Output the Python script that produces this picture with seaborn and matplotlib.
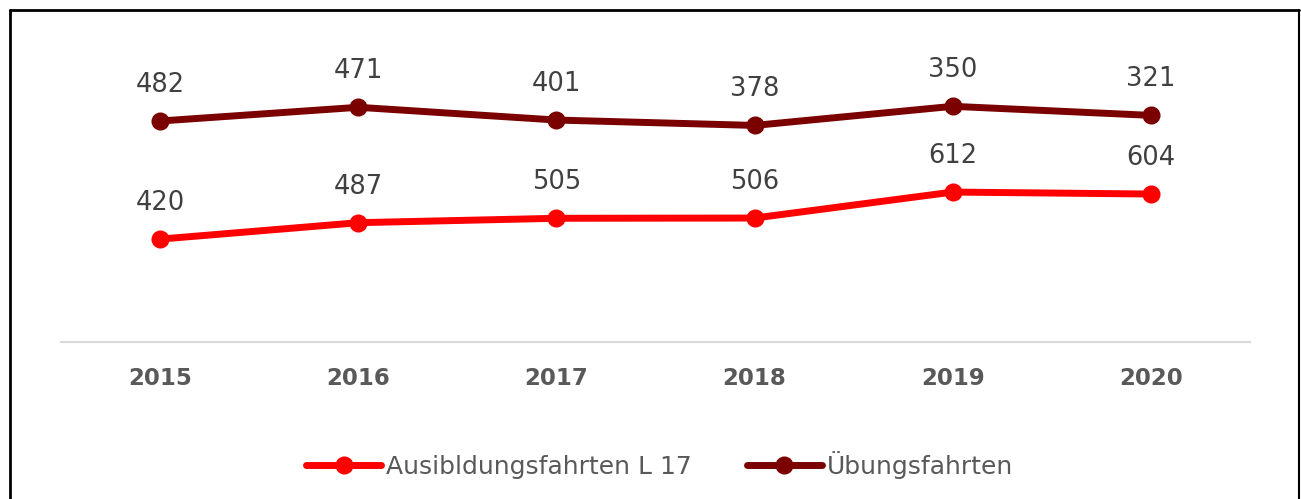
import matplotlib.pyplot as plt
import matplotlib.lines as mlines
import numpy as np
import pandas as pd
import seaborn as sns

# datos
jahre = ['2015', '2016', '2017', '2018', '2019', '2020']
ausbildung = [420, 487, 505, 506, 612, 604]
uebung = [482, 471, 401, 378, 350, 321]
serien = ['Ausibldungsfahrten L 17', 'Übungsfahrten']
farben = ['#FF0000', '#7B0000']

# gestapeltes Liniendiagramm (wie in Excel)
gestapelt = np.array(ausbildung) + np.array(uebung)
df = pd.DataFrame({
    'Jahr': jahre * 2,
    'x': list(range(len(jahre))) * 2,
    'wert': list(ausbildung) + list(gestapelt),
    'label': list(ausbildung) + list(uebung),
    'Serie': [serien[0]] * len(jahre) + [serien[1]] * len(jahre),
})

sns.set_style('white')
plt.rcParams['font.family'] = ['DejaVu Sans']

fig = plt.figure(figsize=(13.01, 4.99), dpi=100)
ax = fig.add_axes([61 / 1301, 0.3146, (1250 - 61) / 1301, 0.5892])

sns.lineplot(data=df, x='x', y='wert', hue='Serie', palette=farben,
             marker='o', markersize=13, linewidth=5, markeredgewidth=0,
             ax=ax, legend=False)

# Beschriftung der Punkte
for _, r in df.iterrows():
    ax.annotate(f"{r['label']}", (r['x'], r['wert']), xytext=(0, 26),
                textcoords='offset points', ha='center', va='center',
                fontsize=18.5, color='#404040')

ax.set_xlim(-0.5, 5.5)
ax.set_ylim(0, 1200)
ax.set_xticks(range(len(jahre)))
ax.set_xticklabels(jahre, fontsize=16.5, fontweight='bold', color='#595959')
ax.tick_params(axis='x', length=0, pad=18)
ax.set_yticks([])
ax.set_xlabel('')
ax.set_ylabel('')
for s in ['top', 'right', 'left']:
    ax.spines[s].set_visible(False)
ax.spines['bottom'].set_color('#D9D9D9')
ax.spines['bottom'].set_linewidth(1.5)

# Legende
handles = [mlines.Line2D([], [], color=c, marker='o', markersize=13,
                         linewidth=5, markeredgewidth=0) for c in farben]
leg = fig.legend(handles, serien, loc='center', bbox_to_anchor=(0.507, 0.068),
                 ncol=2, frameon=False, fontsize=18, handlelength=3.0,
                 handletextpad=0.2, columnspacing=2.2)
for t in leg.get_texts():
    t.set_color('#595959')

# Rahmen
fig.add_artist(mlines.Line2D([10 / 1301, 10 / 1301], [0, 1 - 10 / 499], color='black', lw=2))
fig.add_artist(mlines.Line2D([10 / 1301, 1299 / 1301], [1 - 10 / 499, 1 - 10 / 499], color='black', lw=2))
fig.add_artist(mlines.Line2D([1299 / 1301, 1299 / 1301], [0, 1 - 10 / 499], color='black', lw=1.5))

fig.savefig('out.png', dpi=100)
